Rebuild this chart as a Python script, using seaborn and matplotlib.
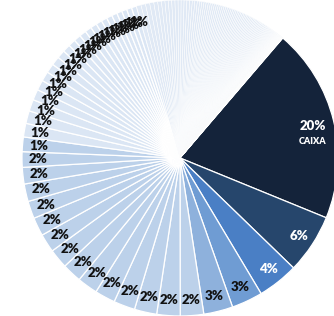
import matplotlib
matplotlib.use("Agg")
import matplotlib.pyplot as plt
import seaborn as sns

# share of each institution, sorted descending (percent)
top_names = ["CAIXA", "", "", "", ""]
top_values = [20.0, 6.1, 4.2, 3.2, 3.0]
two_pct = [2.4, 2.4, 2.3, 2.2, 2.1, 2.1, 2.0, 2.0, 1.9, 1.9, 1.8, 1.8, 1.7, 1.6, 1.5]
one_pct = [1.4, 1.3, 1.2, 1.1, 1.05, 1.0, 0.95, 0.9, 0.85, 0.8, 0.75,
           0.72, 0.7, 0.68, 0.65, 0.62, 0.6, 0.58, 0.56, 0.54, 0.53, 0.52, 0.51]
tiny = [0.48, 0.46, 0.44, 0.42, 0.40, 0.38, 0.36, 0.35, 0.34, 0.33, 0.32, 0.31, 0.30,
        0.29, 0.28, 0.27, 0.26, 0.25, 0.24, 0.23,
        0.22, 0.22, 0.21, 0.21, 0.20, 0.20, 0.19, 0.19, 0.18, 0.18,
        0.22, 0.21, 0.21, 0.20, 0.20, 0.19, 0.19, 0.18, 0.18, 0.17,
        0.17, 0.17, 0.16, 0.16, 0.15, 0.15, 0.14, 0.14, 0.13, 0.13,
        0.17, 0.16, 0.16, 0.15, 0.15, 0.14, 0.14, 0.13, 0.13, 0.12,
        0.12, 0.11, 0.11, 0.10, 0.10, 0.10, 0.09, 0.09, 0.09, 0.08,
        0.08, 0.08, 0.07, 0.07, 0.07, 0.06, 0.06, 0.06, 0.05, 0.05,
        0.05, 0.05, 0.04, 0.04, 0.04, 0.04, 0.03, 0.03, 0.03, 0.03,
        0.03, 0.02, 0.02, 0.02, 0.02, 0.02, 0.02, 0.01, 0.01, 0.01]
tiny = sorted(tiny, reverse=True)

top_colors = ["#14233a", "#26466c", "#4a7fc5", "#6f9cd3", "#8eb1dc"]
two_color = "#bcd1ea"
one_color = "#dbe6f4"
tiny_color = "#e0e9f5"

values = top_values + two_pct + one_pct + tiny
colors = top_colors + [two_color] * len(two_pct) + [one_color] * len(one_pct) + [tiny_color] * len(tiny)

sns.set_theme(style="white")
plt.rcParams['font.family'] = ['Lato', 'DejaVu Sans']

fig = plt.figure(figsize=(3.34, 3.16), dpi=100)
ax = fig.add_axes([22 / 334, 0, 316 / 334, 1])

wedges, texts, autotexts = ax.pie(
    values, colors=colors, startangle=49.4, counterclock=False,
    autopct=lambda p: f"{p:.0f}%" if p >= 0.5 else "", pctdistance=0.9,
    wedgeprops=dict(edgecolor="white", linewidth=0.9),
    textprops=dict(fontsize=9.5, fontweight="heavy", color="#111111"))

n_big = len(top_values) + len(two_pct) + len(one_pct)
for w in wedges[n_big:]:
    w.set_linewidth(0.35)

for t in autotexts[:3]:
    t.set_color("white")

# CAIXA label a little further in, with the name just under its percentage
x0, y0 = autotexts[0].get_position()
autotexts[0].set_position((x0 * 0.96, y0 * 0.96))
ax.annotate(top_names[0], (x0 * 0.96, y0 * 0.96), xytext=(0, -11),
            textcoords="offset points", ha="center", va="center",
            fontsize=6.5, fontweight="heavy", color="white")

ax.set_xlim(-1, 1)
ax.set_ylim(-1, 1)
ax.axis("off")

fig.savefig("out.png", dpi=100)
